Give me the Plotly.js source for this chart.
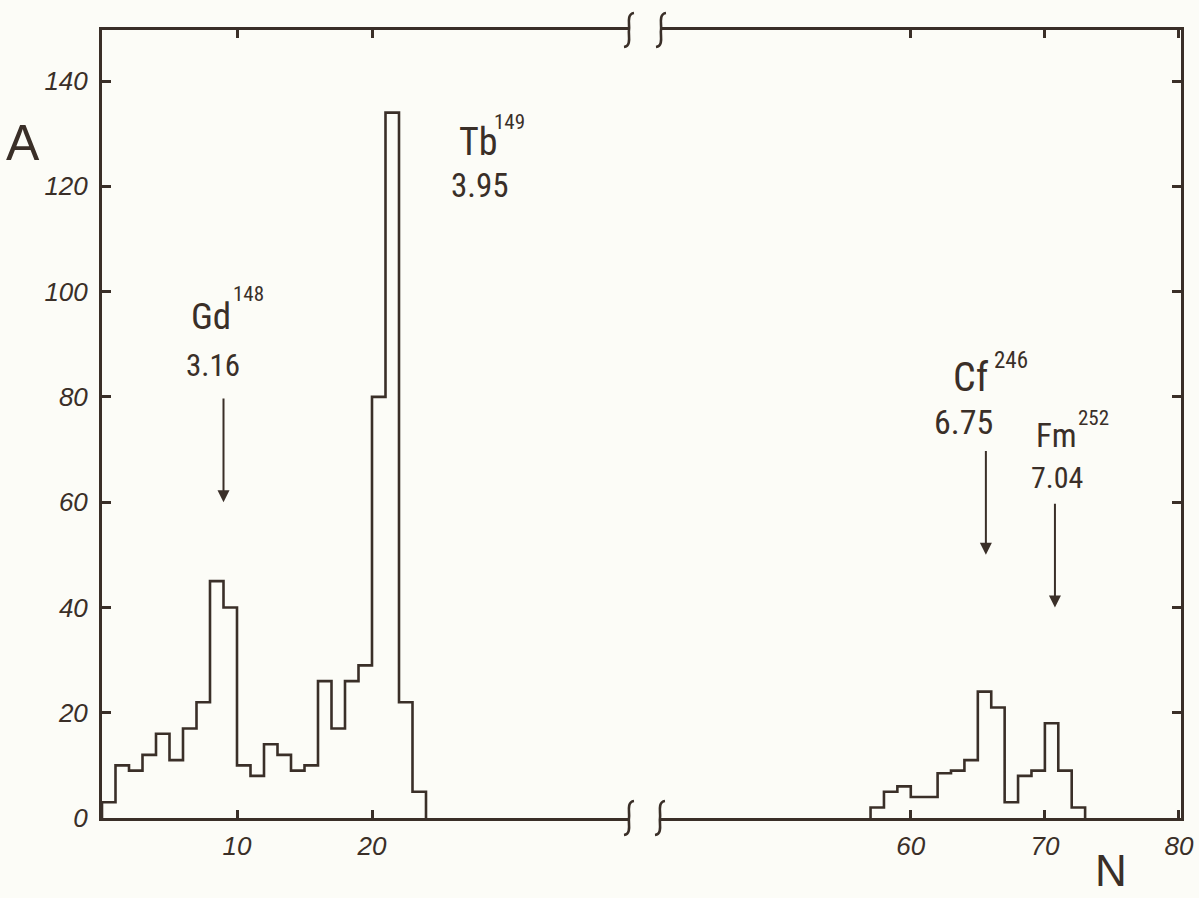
<!DOCTYPE html>
<html>
<head>
<meta charset="utf-8">
<script src="https://cdn.plot.ly/plotly-3.0.1.min.js"></script>
<style>
html,body{margin:0;padding:0;background:#fcfcf7;}
#chart{width:1199px;height:898px;}
</style>
</head>
<body>
<div id="chart"></div>
<script>
// ---- data ----
// left block: unit-width bins starting at N = 0
const leftStart = 0;
const leftCounts = [3, 10, 9, 12, 16, 11, 17, 22, 45, 40, 10, 8, 14, 12, 9, 10, 26, 17, 26, 29, 80, 134, 22, 5];
// right block: unit-width bins starting at N = 57
const rightStart = 57;
const rightCounts = [2, 5, 6, 4, 4, 8.5, 9, 11, 24, 21, 3, 8, 9, 18, 9, 2];

const yTicks = [0, 20, 40, 60, 80, 100, 120, 140];
const xTicksLeft = [10, 20];
const xTicksRight = [60, 70, 80];

// nuclide labels
const peaks = [
  {name: 'Gd', mass: '148', energy: '3.16', side: 'L', arrowN: 9.0, arrowFrom: 80, arrowTo: 60},
  {name: 'Tb', mass: '149', energy: '3.95', side: 'L', arrowN: null},
  {name: 'Cf', mass: '246', energy: '6.75', side: 'R', arrowN: 65.6, arrowFrom: 70, arrowTo: 50},
  {name: 'Fm', mass: '252', energy: '7.04', side: 'R', arrowN: 70.75, arrowFrom: 60, arrowTo: 40}
];

// ---- helpers ----
function stepXY(start, counts) {
  const xs = [start], ys = [0];
  for (let i = 0; i < counts.length; i++) { xs.push(start + i); ys.push(counts[i]); }
  xs.push(start + counts.length); ys.push(0);
  return {x: xs, y: ys};
}

const INK = '#3a2f28';
const W = 1199, H = 898;
const L = 102, R = 1181, T = 30, B = 818;   // plot-area pixel frame
const brk1 = 629, brk2 = 660;                // break positions (px)
const pw = R - L, ph = B - T;
const px = v => (v - L) / pw;               // pixel -> paper
const py = v => (B - v) / ph;

const sL = stepXY(leftStart, leftCounts);
const sR = stepXY(rightStart, rightCounts);

const traces = [
  {x: sL.x, y: sL.y, type: 'scatter', mode: 'lines', line: {shape: 'hv', color: INK, width: 2.6},
   xaxis: 'x', yaxis: 'y', hoverinfo: 'skip'},
  {x: sR.x, y: sR.y, type: 'scatter', mode: 'lines', line: {shape: 'hv', color: INK, width: 2.6},
   xaxis: 'x2', yaxis: 'y2', hoverinfo: 'skip'}
];

const tickFont = {family: 'Liberation Sans, Arial, sans-serif', size: 26, color: INK, style: 'italic'};
const yMax = 149.7;

const commonX = {
  showline: true, linecolor: INK, linewidth: 3, mirror: 'ticks',
  ticks: 'inside', ticklen: 8, tickwidth: 3, tickcolor: INK,
  showgrid: false, zeroline: false, tickfont: tickFont, ticklabelstandoff: 3,
  tickmode: 'array'
};
const commonY = {
  range: [0, yMax], showline: true, linecolor: INK, linewidth: 3,
  ticks: 'inside', ticklen: 9, tickwidth: 3, tickcolor: INK,
  showgrid: false, zeroline: false, tickfont: tickFont,
  tickmode: 'array', tickvals: yTicks
};

const LBL_FAMILY = 'Roboto Condensed, Liberation Sans Narrow, Roboto, sans-serif';
const lblFont = (s) => ({family: LBL_FAMILY, size: s, color: INK});

// label placement (axis data coords)
const labelPos = {
  Gd: {n: [8.1, 95.2], m: [10.85, 99.6], e: [8.25, 85.9], sz: [37, 21, 31]},
  Tb: {n: [27.9, 128.4], m: [30.2, 132.2], e: [28.0, 120.1], sz: [38, 21, 33]},
  Cf: {n: [64.5, 83.6], m: [67.45, 86.9], e: [63.9, 75.2], sz: [40, 23, 34]},
  Fm: {n: [70.9, 72.6], m: [73.6, 75.9], e: [70.9, 64.6], sz: [33, 21, 30]}
};

const annotations = [];
peaks.forEach(p => {
  const xr = p.side === 'L' ? 'x' : 'x2', yr = p.side === 'L' ? 'y' : 'y2';
  const lp = labelPos[p.name];
  const base = {xref: xr, yref: yr, showarrow: false, xanchor: 'center', yanchor: 'middle'};
  annotations.push(Object.assign({}, base, {x: lp.n[0], y: lp.n[1], text: p.name, font: lblFont(lp.sz[0])}));
  annotations.push(Object.assign({}, base, {x: lp.m[0], y: lp.m[1], text: p.mass, font: lblFont(lp.sz[1])}));
  annotations.push(Object.assign({}, base, {x: lp.e[0], y: lp.e[1], text: p.energy, font: lblFont(lp.sz[2])}));
  if (p.arrowN !== null) {
    annotations.push({xref: xr, yref: yr, axref: xr, ayref: yr, x: p.arrowN, y: p.arrowTo,
      ax: p.arrowN, ay: p.arrowFrom, text: '', showarrow: true, arrowhead: 2, arrowsize: 1.2,
      arrowwidth: 2, arrowcolor: INK, standoff: 0, startstandoff: 0});
  }
});
// axis titles
annotations.push({xref: 'paper', yref: 'paper', x: px(23), y: py(143), text: 'A', showarrow: false,
  xanchor: 'center', yanchor: 'middle',
  font: {family: 'Liberation Sans, Arial, sans-serif', size: 50, color: INK}});
annotations.push({xref: 'paper', yref: 'paper', x: px(1111), y: py(870), text: 'N', showarrow: false,
  xanchor: 'center', yanchor: 'middle',
  font: {family: 'Liberation Sans, Arial, sans-serif', size: 44, color: INK}});

// axis-break marks (integral-like strokes)
function sMark(cx, cy) {
  const pts = [[cx + 5, cy - 17], [cx - 3, cy - 16], [cx + 1, cy - 4], [cx, cy],
               [cx - 1, cy + 4], [cx + 3, cy + 16], [cx - 5, cy + 17]];
  const P = pts.map(q => [px(q[0]), py(q[1])]);
  return {type: 'path', xref: 'paper', yref: 'paper',
    path: `M ${P[0][0]},${P[0][1]} C ${P[1][0]},${P[1][1]} ${P[2][0]},${P[2][1]} ${P[3][0]},${P[3][1]} C ${P[4][0]},${P[4][1]} ${P[5][0]},${P[5][1]} ${P[6][0]},${P[6][1]}`,
    line: {color: INK, width: 2.6}};
}
const shapes = [sMark(brk1, T), sMark(brk2 + 1, T), sMark(brk1, B), sMark(brk2, B)];

const layout = {
  width: W, height: H,
  margin: {l: L, r: W - R, t: T, b: H - B, pad: 0},
  paper_bgcolor: '#fcfcf7', plot_bgcolor: 'rgba(0,0,0,0)',
  showlegend: false,
  xaxis: Object.assign({}, commonX, {domain: [0, px(brk1)], range: [0, (brk1 - L) / 13.5],
    tickvals: xTicksLeft, anchor: 'y'}),
  xaxis2: Object.assign({}, commonX, {domain: [px(brk2), 1], range: [41.3, 80.15],
    tickvals: xTicksRight, anchor: 'y2'}),
  yaxis: Object.assign({}, commonY, {anchor: 'x', ticklabelstandoff: 6}),
  yaxis2: Object.assign({}, commonY, {anchor: 'x2', side: 'right', showticklabels: false}),
  annotations: annotations,
  shapes: shapes
};

Plotly.newPlot('chart', traces, layout, {displayModeBar: false, staticPlot: true});
</script>
</body>
</html>
